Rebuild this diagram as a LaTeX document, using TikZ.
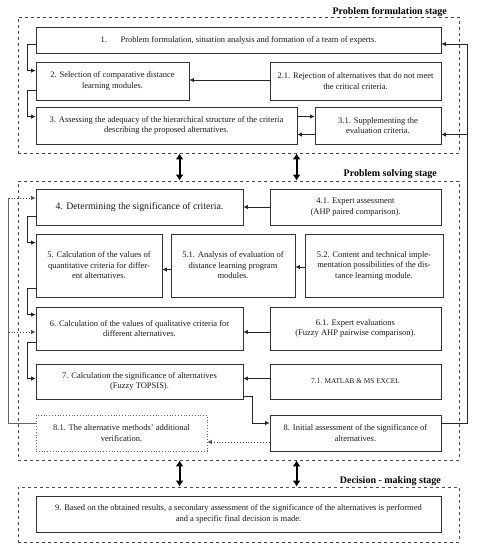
\documentclass[tikz,border=0pt]{standalone}
\usepackage{fontspec}
\setmainfont{Liberation Serif}
\usepackage{tikz}
\usetikzlibrary{arrows.meta,calc,positioning}

\begin{document}
\begin{tikzpicture}[x=1pt,y=-1pt,>={Latex[length=4.5pt,width=4.5pt]},
    box/.style={draw=black!80,line width=0.8pt,align=center,inner sep=1pt,
      font=\fontsize{8.5}{10.5}\selectfont,text=black!90},
    frame/.style={draw=black!70,dashed,line width=0.8pt,inner sep=0pt},
    stagetitle/.style={font=\fontsize{10}{11}\selectfont\bfseries,anchor=base east,inner sep=0pt},
    link/.style={->,draw=black!85,line width=0.8pt},
    dotlink/.style={->,draw=black!70,dotted,line width=0.9pt},
    dbl/.style={{Latex[length=6pt,width=8pt]}-{Latex[length=6pt,width=8pt]},line width=1.8pt,black}]
    \useasboundingbox (0,0) rectangle (479,550);

    \node (f1) [frame,minimum width=441pt,minimum height=136pt] at (238.5,85) {};
    \node (f2) [frame,minimum width=441pt,minimum height=279pt] at (238.5,320.5) {};
    \node (f3) [frame,minimum width=441pt,minimum height=55pt] at (238.5,514.5) {};

    \node (t1) [stagetitle] at (447,14) {Problem formulation stage};
    \node (t2) [stagetitle] at (437,176) {Problem solving stage};
    \node (t3) [stagetitle] at (441,483) {Decision - making stage};

    \node (b1)  [box,minimum width=405pt,minimum height=26pt] at (238.5,40)
    {1.\hspace{1.6em}Problem formulation, situation analysis and formation of a team of experts.};
    \node (b2)  [box,minimum width=153pt,minimum height=38pt] at (112.5,81)
    {2. Selection of comparative distance\\ learning modules.};
    \node (b21) [box,minimum width=171pt,minimum height=38pt] at (355.5,81)
    {2.1. Rejection of alternatives that do not meet\\ the critical criteria.};
    \node (b3)  [box,minimum width=261pt,minimum height=37pt] at (166.5,125.5)
    {3. Assessing the adequacy of the hierarchical structure of the criteria\\ describing the proposed alternatives.};
    \node (b31) [box,minimum width=126pt,minimum height=37pt] at (378,125.5)
    {3.1. Supplementing the\\ evaluation criteria.};

    \node (b4)  [box,minimum width=207pt,minimum height=36pt,font=\fontsize{9.8}{11}\selectfont] at (139.5,207)
    {4. Determining the significance of criteria.};
    \node (b41) [box,minimum width=171pt,minimum height=36pt] at (355.5,207)
    {4.1. Expert assessment\\ (AHP paired comparison).};
    \node (b5)  [box,minimum width=126pt,minimum height=63pt] at (99,265.5)
    {5. Calculation of the values of\\ quantitative criteria for differ-\\ ent alternatives.};
    \node (b51) [box,minimum width=124pt,minimum height=63pt] at (233,265.5)
    {5.1. Analysis of evaluation of\\ distance learning program\\ modules.};
    \node (b52) [box,minimum width=138pt,minimum height=63pt] at (374,265.5)
    {5.2. Content and technical imple-\\ mentation possibilities of the dis-\\ tance learning module.};
    \node (b6)  [box,minimum width=207pt,minimum height=43pt] at (139.5,328.5)
    {6. Calculation of the values of qualitative criteria for\\ different alternatives.};
    \node (b61) [box,minimum width=171pt,minimum height=43pt] at (355.5,328.5)
    {6.1. Expert evaluations\\ (Fuzzy AHP pairwise comparison).};
    \node (b7)  [box,minimum width=207pt,minimum height=35pt] at (139.5,381.5)
    {7. Calculation the significance of alternatives\\ (Fuzzy TOPSIS).};
    \node (b71) [box,minimum width=171pt,minimum height=35pt,font=\fontsize{7.3}{9}\selectfont] at (355.5,381.5)
    {7.1. MATLAB \& MS EXCEL};
    \node (b81) [box,draw=black!60,dotted,minimum width=171pt,minimum height=36pt] at (121.5,433)
    {8.1. The alternative methods' additional\\ verification.};
    \node (b8)  [box,minimum width=171pt,minimum height=36pt] at (355.5,433)
    {8. Initial assessment of the significance of\\ alternatives.};

    \node (b9)  [box,minimum width=405pt,minimum height=36pt] at (238.5,514)
    {9. Based on the obtained results, a secondary assessment of the significance of the alternatives is performed\\ and a specific final decision is made.};

    \draw[link] ($(b1.west)+(0,4)$) -- ++(-8,0) |- ($(b2.north west)+(0,9)$);
    \draw[link] ($(b2.south west)+(0,-10)$) -- ++(-8,0) |- ($(b3.north west)+(0,10)$);
    \draw[link] ($(b21.west)+(0,-1)$) -- ($(b2.east)+(0,-1)$);
    \draw[link] ($(b3.east)+(0,-9)$) -- ($(b31.west)+(0,-9)$);
    \draw[link] ($(b31.west)+(0,9)$) -- ($(b3.east)+(0,9)$);

    \draw[link] (b41.west) -- (b4.east);
    \draw[link] ($(b4.south west)+(0,-9)$) -- ++(-8,0) |- ($(b5.north west)+(0,9)$);
    \draw[link] ($(b52.west)+(0,1.5)$) -- ($(b51.east)+(0,1.5)$);
    \draw[link] ($(b51.west)+(0,4)$) -- ($(b5.east)+(0,4)$);
    \draw[link] ($(b5.south west)+(0,-9)$) -- ++(-8,0) |- ($(b6.north west)+(0,8)$);
    \draw[link] ($(b61.west)+(0,3.5)$) -- ($(b6.east)+(0,3.5)$);
    \draw[link] ($(b6.south west)+(0,-8)$) -- ++(-8,0) |- ($(b7.west)+(0,-3)$);
    \draw[link] ($(b71.west)+(0,-3)$) -- ($(b7.east)+(0,-3)$);
    \draw[link] ($(b7.south east)+(0,-3)$) -- ++(9,0) |- ($(b8.west)+(0,-10)$);
    \draw[dotlink] ($(b8.west)+(0,9)$) -- ($(b81.east)+(0,9)$);

    \coordinate (rtop) at ($(b1.east)+(26,4)$);
    \draw[link] ($(b8.east)+(0,-10)$) -| (rtop) -- ($(b1.east)+(0,4)$);
    \draw[link] ($(b31.east)+(26,9)$) -- ($(b31.east)+(0,9)$);

    \coordinate (ltop) at ($(b4.west)+(-27,-9)$);
    \draw[black!60,line width=0.8pt] ($(b81.west)+(0,-10)$) -| (ltop);
    \draw[dotlink] (ltop) -- ($(b4.west)+(0,-9)$);
    \draw[dotlink] ($(b6.west)+(-27,3.5)$) -- ($(b6.west)+(0,3.5)$);

    \draw[dbl] ($(f1.south west)+(162,0)$) -- ($(f2.north west)+(162,0)$);
    \draw[dbl] ($(f1.south west)+(279,0)$) -- ($(f2.north west)+(279,0)$);
    \draw[dbl] ($(f2.south west)+(162,0)$) -- ($(f3.north west)+(162,0)$);
    \draw[dbl] ($(f2.south west)+(279,0)$) -- ($(f3.north west)+(279,0)$);
  \end{tikzpicture}
\end{document}
